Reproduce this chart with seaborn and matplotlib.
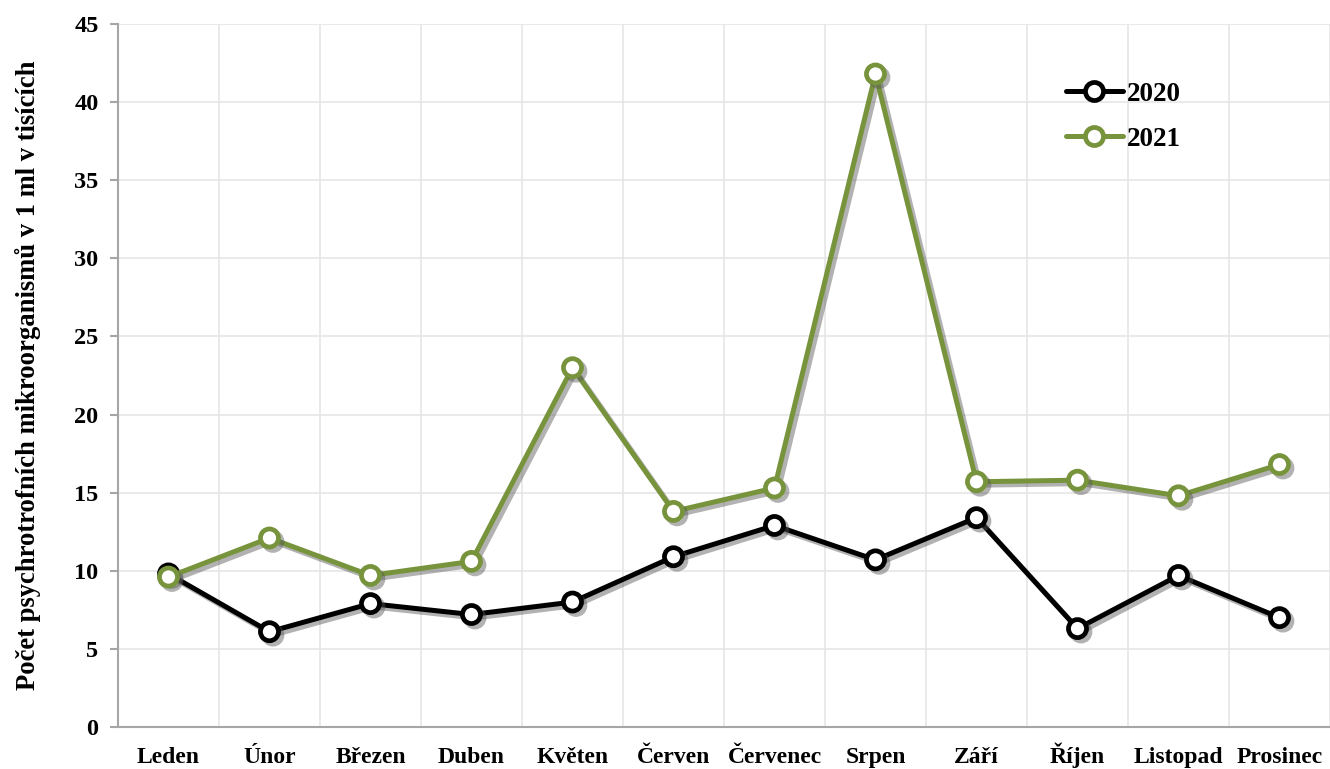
import numpy as np
import pandas as pd
import matplotlib
matplotlib.use("Agg")
import matplotlib.pyplot as plt
import matplotlib.patheffects as pe
from matplotlib.ticker import MultipleLocator, FixedLocator
import seaborn as sns

months = ['Leden', 'Únor', 'Březen', 'Duben', 'Květen', 'Červen',
          'Červenec', 'Srpen', 'Září', 'Říjen', 'Listopad', 'Prosinec']
values_2020 = [9.8, 6.1, 7.9, 7.2, 8.0, 10.9, 12.9, 10.7, 13.4, 6.3, 9.7, 7.0]
values_2021 = [9.6, 12.1, 9.7, 10.6, 23.0, 13.8, 15.3, 41.8, 15.7, 15.8, 14.8, 16.8]
colors = {'2020': '#000000', '2021': '#77933C'}

sns.set_theme(style="white")
plt.rcParams['font.family'] = ['Liberation Serif', 'DejaVu Serif']
plt.rcParams['font.weight'] = 'bold'
plt.rcParams['text.color'] = 'black'
plt.rcParams['axes.labelcolor'] = 'black'

fig = plt.figure(figsize=(13.3, 7.69), dpi=100)
ax = fig.add_axes([0.0887, 0.0546, 0.9113, 0.9142])

shadow = [pe.SimpleLineShadow(offset=(2.5, -2.5), shadow_color='#555555', alpha=0.45),
          pe.Normal()]

for year, vals in [('2020', values_2020), ('2021', values_2021)]:
    df = pd.DataFrame({'mesic': months, 'hodnota': vals})
    sns.lineplot(data=df, x='mesic', y='hodnota', sort=False, ax=ax,
                 color=colors[year], linewidth=3.6, marker='o',
                 markersize=13, markerfacecolor='white',
                 markeredgecolor=colors[year], markeredgewidth=3.4,
                 label=year, path_effects=shadow, zorder=3)

ax.set_xlim(-0.5, 11.5)
ax.set_ylim(0, 45)
ax.yaxis.set_major_locator(MultipleLocator(5))
ax.xaxis.set_minor_locator(FixedLocator(np.arange(-0.5, 12, 1)))

ax.grid(False)
ax.yaxis.grid(True, color='#e6e6e6', linewidth=1.2)
ax.xaxis.grid(True, which='minor', color='#e6e6e6', linewidth=1.2)
ax.set_axisbelow(True)

for s in ['top', 'right']:
    ax.spines[s].set_visible(False)
for s in ['left', 'bottom']:
    ax.spines[s].set_color('#a6a6a6')
    ax.spines[s].set_linewidth(1.5)

ax.tick_params(axis='x', which='major', length=0, pad=26, labelsize=17,
               labelcolor='black')
ax.tick_params(axis='x', which='minor', length=6, width=1.5, color='#a6a6a6', direction='out')
ax.tick_params(axis='y', which='major', length=6, width=1.5, color='#a6a6a6',
               direction='out', labelsize=17.5, pad=8, left=True, labelcolor='black')
for lbl in ax.get_xticklabels():
    lbl.set_fontweight('bold')
    lbl.set_verticalalignment('baseline')
for lbl in ax.get_yticklabels():
    lbl.set_fontweight('bold')

ax.set_xlabel('')
ax.set_ylabel('Počet psychrotrofních mikroorganismů v 1 ml v tisících',
              fontsize=19.2, fontweight='bold', labelpad=24)

leg = ax.legend(loc='upper left', bbox_to_anchor=(0.782, 0.918), frameon=False,
                prop={'weight': 'bold', 'size': 19.5}, handlelength=2.1,
                labelspacing=0.75, handletextpad=0.15, borderpad=0, borderaxespad=0)
for h in leg.get_lines():
    h.set_path_effects([])
for t in leg.get_texts():
    t.set_color('black')

fig.savefig('out.png', dpi=100)
